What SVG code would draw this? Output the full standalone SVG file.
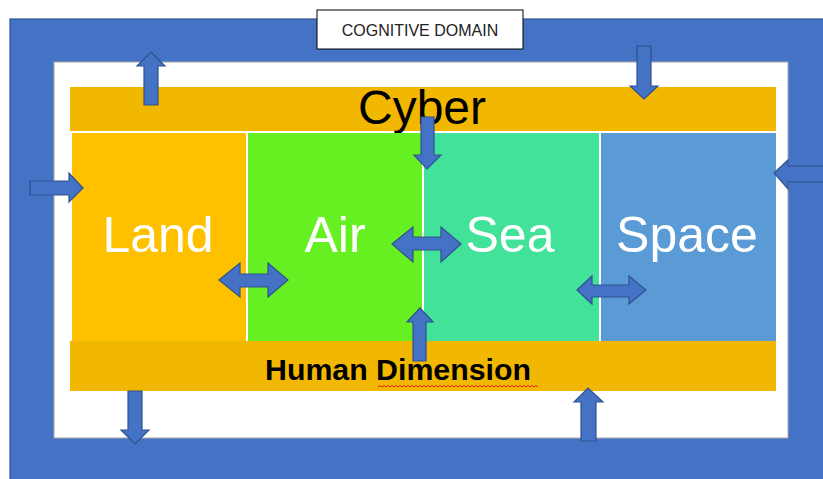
<svg xmlns="http://www.w3.org/2000/svg" width="823" height="479" viewBox="0 0 823 479">
<style>
.arr{fill:#4472C4;stroke:#2F528F;stroke-width:1.2;stroke-linejoin:miter}
.dom{font-family:"Liberation Sans",Arial,sans-serif;font-size:50px;fill:#fff;text-anchor:middle}
</style>
<rect x="0" y="0" width="823" height="479" fill="#fff"/>
<g id="cognitive-frame">
<rect x="10" y="19" width="830" height="480" fill="#4472C4" stroke="#2F528F" stroke-width="1.2"/>
<rect x="54" y="62" width="734" height="376" fill="#fff" stroke="#A5A5A5" stroke-width="1"/>
</g>
<g id="cognitive-label">
<rect x="317" y="10" width="206" height="39" fill="#fff" stroke="#000" stroke-width="1"/>
<text x="420" y="36" font-family="Liberation Sans,Arial,sans-serif" font-size="16" fill="#222" text-anchor="middle">COGNITIVE DOMAIN</text>
</g>
<g id="cyber">
<rect x="70" y="87" width="706" height="44" fill="#F2B700"/>
<text x="422" y="124" font-family="Liberation Sans,Arial,sans-serif" font-size="48" fill="#000" text-anchor="middle">Cyber</text>
</g>
<g id="land">
<rect x="72" y="133" width="174" height="208" fill="#FFC000"/>
<text class="dom" x="158" y="252">Land</text>
</g>
<g id="air">
<rect x="248" y="133" width="174" height="208" fill="#66F022"/>
<text class="dom" x="335" y="252">Air</text>
</g>
<g id="sea">
<rect x="424" y="133" width="175" height="208" fill="#42E29A"/>
<text class="dom" x="510" y="252">Sea</text>
</g>
<g id="space">
<rect x="601" y="133" width="175" height="208" fill="#5B9BD5"/>
<text class="dom" x="687" y="252">Space</text>
</g>
<g id="human-dimension">
<rect x="70" y="341" width="706" height="50" fill="#F2B700"/>
<text x="398" y="380" font-family="Liberation Sans,Arial,sans-serif" font-size="29" font-weight="bold" fill="#000" text-anchor="middle" textLength="266" lengthAdjust="spacingAndGlyphs">Human Dimension</text>
<path d="M378 387 l2 -1.5 l2 1.5 l2 -1.5 l2 1.5 l2 -1.5 l2 1.5 l2 -1.5 l2 1.5 l2 -1.5 l2 1.5 l2 -1.5 l2 1.5 l2 -1.5 l2 1.5 l2 -1.5 l2 1.5 l2 -1.5 l2 1.5 l2 -1.5 l2 1.5 l2 -1.5 l2 1.5 l2 -1.5 l2 1.5 l2 -1.5 l2 1.5 l2 -1.5 l2 1.5 l2 -1.5 l2 1.5 l2 -1.5 l2 1.5 l2 -1.5 l2 1.5 l2 -1.5 l2 1.5 l2 -1.5 l2 1.5 l2 -1.5 l2 1.5 l2 -1.5 l2 1.5 l2 -1.5 l2 1.5 l2 -1.5 l2 1.5 l2 -1.5 l2 1.5 l2 -1.5 l2 1.5 l2 -1.5 l2 1.5 l2 -1.5 l2 1.5 l2 -1.5 l2 1.5 l2 -1.5 l2 1.5 l2 -1.5 l2 1.5 l2 -1.5 l2 1.5 l2 -1.5 l2 1.5 l2 -1.5 l2 1.5 l2 -1.5 l2 1.5 l2 -1.5 l2 1.5 l2 -1.5 l2 1.5 l2 -1.5 l2 1.5 l2 -1.5 l2 1.5 l2 -1.5 l2 1.5 l2 -1.5 l2 1.5" fill="none" stroke="#E02020" stroke-width="1"/>
</g>
<g id="connectors">
<!-- up arrow top-left -->
<polygon class="arr" points="144,105 144,66 137,66 151,52 165,66 158,66 158,105"/>
<!-- down arrow top-right -->
<polygon class="arr" points="637,46 651,46 651,86 658,86 644,99 630,86 637,86"/>
<!-- right arrow left side -->
<polygon class="arr" points="30,181 69,181 69,173 83,188 69,202 69,195 30,195"/>
<!-- left arrow right side -->
<polygon class="arr" points="830,166 788,166 788,160 774,173 788,189 788,182 830,182"/>
<!-- down arrow cyber to sea -->
<polygon class="arr" points="421,117 434,117 434,155 441,155 427,169 414,155 421,155"/>
<!-- land-air double -->
<polygon class="arr" points="219,280 240,263 240,274 268,274 268,263 288,280 268,297 268,287 240,287 240,297"/>
<!-- air-sea double -->
<polygon class="arr" points="392,244 413,227 413,237 441,237 441,227 461,244 441,262 441,250 413,250 413,262"/>
<!-- sea-space double -->
<polygon class="arr" points="577,290 592,276 592,285 629,285 629,276 646,290 629,304 629,297 592,297 592,304"/>
<!-- up arrow human to sea -->
<polygon class="arr" points="413,361 413,322 407,322 420,308 433,322 426,322 426,361"/>
<!-- down arrow bottom-left -->
<polygon class="arr" points="128,391 142,391 142,430 149,430 135,444 121,430 128,430"/>
<!-- up arrow bottom-right -->
<polygon class="arr" points="581,441 581,402 574,402 588,388 603,402 596,402 596,441"/>
</g>
</svg>
